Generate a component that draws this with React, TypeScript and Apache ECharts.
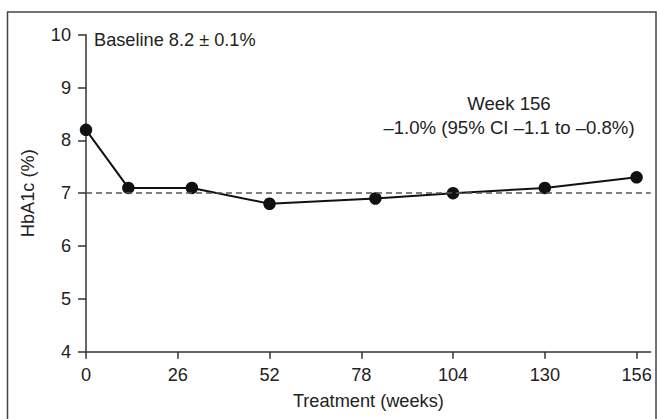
import React, { useEffect, useRef } from "react";
import * as echarts from "echarts";

const weeks = [0, 12, 30, 52, 82, 104, 130, 156];
const hba1c = [8.2, 7.1, 7.1, 6.8, 6.9, 7.0, 7.1, 7.3];
const xTicks = [0, 26, 52, 78, 104, 130, 156];
const referenceLevel = 7;
const baselineText = "Baseline 8.2 ± 0.1%";
const weekText = "Week 156\n–1.0% (95% CI –1.1 to –0.8%)";

const FONT = "Liberation Sans, Arial, Helvetica, sans-serif";
const FS = 18.2;

export default function App() {
  const ref = useRef<HTMLDivElement>(null);
  useEffect(() => {
    if (!ref.current) return;
    const chart = echarts.init(ref.current, undefined, { renderer: "svg" });
    chart.setOption({
      animation: false,
      backgroundColor: "#ffffff",
      textStyle: { fontFamily: FONT },
      grid: { left: 86, right: 6.3, top: 34.7, bottom: 67.3 },
      xAxis: {
        type: "value",
        min: 0,
        max: 160,
        interval: 26,
        name: "Treatment (weeks)",
        nameLocation: "middle",
        nameGap: 40,
        nameTextStyle: { fontSize: FS, color: "#222", fontFamily: FONT },
        axisLine: { show: true, lineStyle: { color: "#333", width: 1.5 } },
        axisTick: { show: true, length: 7, customValues: xTicks, lineStyle: { color: "#333", width: 1.5 } },
        axisLabel: { customValues: xTicks, margin: 14, fontSize: FS, color: "#222", fontFamily: FONT },
        splitLine: { show: false },
      },
      yAxis: {
        type: "value",
        min: 4,
        max: 10,
        interval: 1,
        name: "HbA1c (%)",
        nameLocation: "middle",
        nameGap: 49,
        nameTextStyle: { fontSize: FS, color: "#222", fontFamily: FONT },
        axisLine: { show: true, lineStyle: { color: "#333", width: 1.5 } },
        axisTick: { show: true, length: 8, lineStyle: { color: "#333", width: 1.5 } },
        axisLabel: { margin: 15, fontSize: FS, color: "#222", fontFamily: FONT },
        splitLine: { show: false },
      },
      graphic: [
        {
          type: "rect",
          shape: { x: 7.5, y: 12, width: 648.5, height: 420 },
          style: { fill: "none", stroke: "#444", lineWidth: 1.5 },
          silent: true,
        },
        {
          type: "text",
          x: 94,
          y: 40,
          style: {
            text: baselineText,
            fontSize: FS,
            fontFamily: FONT,
            fill: "#222",
            textAlign: "left",
            textVerticalAlign: "middle",
          },
        },
        {
          type: "text",
          x: 509,
          y: 115,
          style: {
            text: weekText,
            fontSize: 18.6,
            lineHeight: 24,
            fontFamily: FONT,
            fill: "#222",
            textAlign: "center",
            textVerticalAlign: "middle",
          },
        },
      ],
      series: [
        {
          type: "line",
          data: weeks.map((w, i) => [w, hba1c[i]]),
          symbol: "circle",
          symbolSize: 12.5,
          itemStyle: { color: "#111" },
          lineStyle: { color: "#111", width: 2 },
          z: 3,
          markLine: {
            silent: true,
            symbol: "none",
            label: { show: false },
            lineStyle: { color: "#555", type: [6, 4], width: 1.5 },
            data: [{ yAxis: referenceLevel }],
          },
        },
      ],
    });
    return () => chart.dispose();
  }, []);
  return (
    <div
      ref={ref}
      style={{ position: "fixed", left: 0, top: 0, width: 657, height: 419 }}
    />
  );
}
